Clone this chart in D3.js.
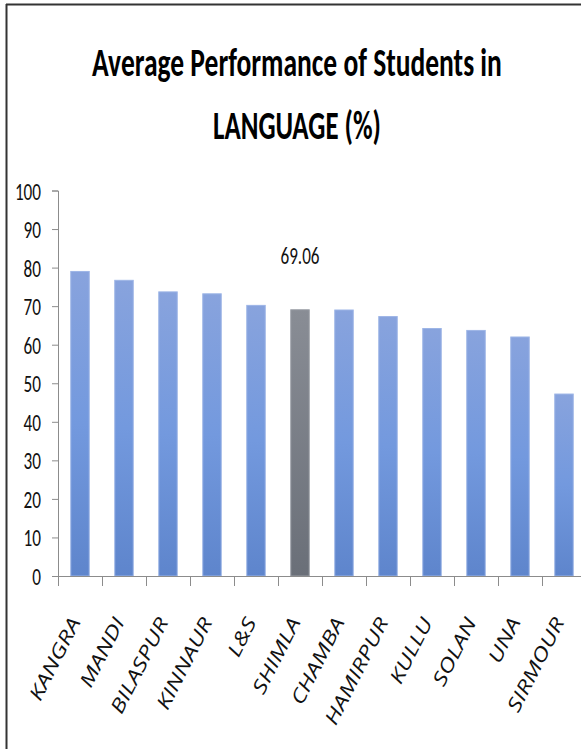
<!DOCTYPE html>
<html><head><meta charset="utf-8">
<script src="https://cdn.jsdelivr.net/npm/d3@7"></script>
<style>
html,body{margin:0;padding:0;background:#fff;}
svg{display:block;}
</style></head>
<body>
<svg id="c" width="581" height="749"></svg>
<script>
const categories = ["KANGRA","MANDI","BILASPUR","KINNAUR","L&S","SHIMLA","CHAMBA","HAMIRPUR","KULLU","SOLAN","UNA","SIRMOUR"];
const values = [79.0, 76.7, 73.7, 73.2, 70.2, 69.06, 69.0, 67.3, 64.2, 63.7, 62.0, 47.2];
const highlighted = ["SHIMLA"];
const yTicks = [0,10,20,30,40,50,60,70,80,90,100];
const titleLines = ["Average Performance of Students in", "LANGUAGE (%)"];
const valueLabelFor = "SHIMLA";

const FONT = "Carlito, Calibri, 'Liberation Sans Narrow', 'DejaVu Sans Condensed', 'Open Sans', sans-serif";
const svg = d3.select("#c");

const defs = svg.append("defs");
const gb = defs.append("linearGradient").attr("id","gBlue").attr("x1",0).attr("y1",0).attr("x2",0).attr("y2",1);
gb.append("stop").attr("offset","0%").attr("stop-color","#88a3dd");
gb.append("stop").attr("offset","50%").attr("stop-color","#7399de");
gb.append("stop").attr("offset","100%").attr("stop-color","#5e85cc");
const gg = defs.append("linearGradient").attr("id","gGray").attr("x1",0).attr("y1",0).attr("x2",0).attr("y2",1);
gg.append("stop").attr("offset","0%").attr("stop-color","#898d95");
gg.append("stop").attr("offset","100%").attr("stop-color","#6a6f78");

// frame
svg.append("line").attr("x1",6).attr("x2",581).attr("y1",4.5).attr("y2",4.5).attr("stroke","#333").attr("stroke-width",2);
svg.append("line").attr("x1",6.5).attr("x2",6.5).attr("y1",4).attr("y2",749).attr("stroke","#333").attr("stroke-width",2);

// title (horizontally scaled to match the condensed look)
const tW = [410, 168];
titleLines.forEach((t,i)=>{
  const g = svg.append("g");
  const tx = g.append("text").attr("x",0).attr("y",0).attr("text-anchor","middle")
    .attr("font-family",FONT).attr("font-weight","bold").attr("font-size",41).attr("fill","#000").text(t);
  const s = tW[i]/tx.node().getComputedTextLength();
  g.attr("transform",`translate(297,${[76,139][i]}) scale(${s},1)`);
});

const x0 = 58, bw = 44;
const x = d3.scaleBand().domain(categories).range([x0, x0 + bw*categories.length]).paddingInner(0.58).paddingOuter(0.29);
const y = d3.scaleLinear().domain([0,100]).range([576,190.5]);

// y axis
const yAxis = svg.append("g").attr("transform",`translate(${x0},0)`)
  .call(d3.axisLeft(y).tickValues(yTicks).tickSize(6).tickPadding(11));
yAxis.select(".domain").attr("stroke","#8c8c8c");
yAxis.selectAll(".tick line").attr("stroke","#8c8c8c");
yAxis.selectAll(".tick text").attr("font-family",FONT).attr("font-size",25).attr("fill","#111")
  .attr("dy","0.34em")
  .attr("textLength",function(d){return String(d).length*8.7;}).attr("lengthAdjust","spacingAndGlyphs");

// bars
svg.append("g").selectAll("rect").data(categories).join("rect")
  .attr("x",d=>x(d)).attr("width",x.bandwidth())
  .attr("y",(d,i)=>y(values[i])).attr("height",(d,i)=>y(0)-y(values[i]))
  .attr("fill",d=>highlighted.includes(d)?"url(#gGray)":"url(#gBlue)")
  .attr("stroke",d=>highlighted.includes(d)?"#9a9ea5":"#9db5e6").attr("stroke-width",1);

// x axis line and ticks
svg.append("line").attr("x1",x0).attr("x2",581).attr("y1",576.5).attr("y2",576.5).attr("stroke","#8c8c8c");
const tickXs = d3.range(categories.length+1).map(i=>x0 + i*bw);
svg.append("g").selectAll("line").data(tickXs).join("line")
  .attr("x1",d=>d+0.5).attr("x2",d=>d+0.5).attr("y1",576).attr("y2",586).attr("stroke","#8c8c8c");

// x labels
const xl = svg.append("g").selectAll("text").data(categories).join("text")
  .attr("transform",d=>`translate(${x(d)+x.bandwidth()/2+1},${622}) rotate(-63)`)
  .attr("text-anchor","end").attr("font-family","'Open Sans', sans-serif").attr("font-style","italic")
  .attr("font-size",19).attr("fill","#111").text(d=>d);
const refLen = xl.filter(d=>d==="KANGRA").node().getComputedTextLength();
const k = 90/refLen;
xl.each(function(){ const L=this.getComputedTextLength(); d3.select(this).attr("textLength",L*k).attr("lengthAdjust","spacingAndGlyphs"); });

// value label
const vi = categories.indexOf(valueLabelFor);
svg.append("text").attr("x",x(valueLabelFor)+x.bandwidth()/2).attr("y",264)
  .attr("text-anchor","middle").attr("font-family",FONT).attr("font-size",25).attr("fill","#111")
  .attr("textLength",39).attr("lengthAdjust","spacingAndGlyphs")
  .text(d3.format(".2f")(values[vi]));
</script>
</body></html>
